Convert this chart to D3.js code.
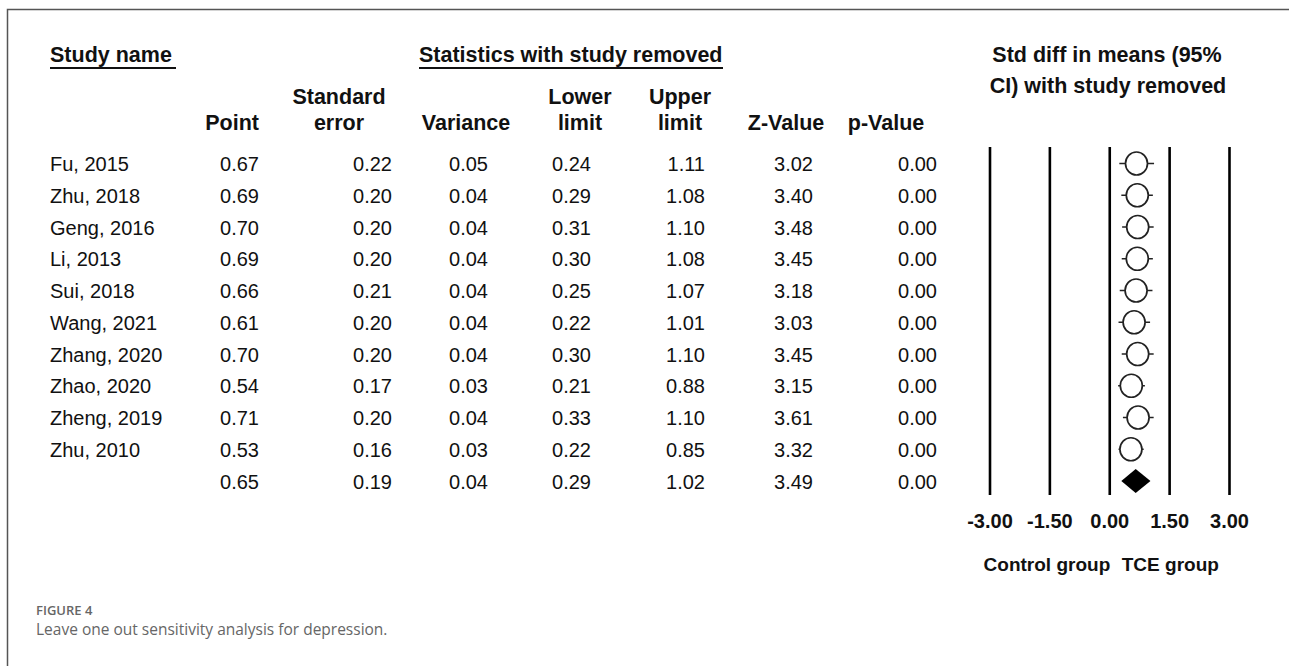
<!DOCTYPE html>
<html>
<head>
<meta charset="utf-8">
<script src="https://cdn.jsdelivr.net/npm/d3@7"></script>
<style>
  html, body { margin: 0; padding: 0; background: #fff; }
  svg { display: block; }
</style>
</head>
<body>
<script>
// ---- data ----
const studies   = ["Fu, 2015","Zhu, 2018","Geng, 2016","Li, 2013","Sui, 2018","Wang, 2021","Zhang, 2020","Zhao, 2020","Zheng, 2019","Zhu, 2010",""];
const point     = [0.67,0.69,0.70,0.69,0.66,0.61,0.70,0.54,0.71,0.53,0.65];
const stdErr    = [0.22,0.20,0.20,0.20,0.21,0.20,0.20,0.17,0.20,0.16,0.19];
const variance  = [0.05,0.04,0.04,0.04,0.04,0.04,0.04,0.03,0.04,0.03,0.04];
const lower     = [0.24,0.29,0.31,0.30,0.25,0.22,0.30,0.21,0.33,0.22,0.29];
const upper     = [1.11,1.08,1.10,1.08,1.07,1.01,1.10,0.88,1.10,0.85,1.02];
const zValue    = [3.02,3.40,3.48,3.45,3.18,3.03,3.45,3.15,3.61,3.32,3.49];
const pValue    = [0.00,0.00,0.00,0.00,0.00,0.00,0.00,0.00,0.00,0.00,0.00];
const isSummary = [false,false,false,false,false,false,false,false,false,false,true];
const tickValues = [-3.00,-1.50,0.00,1.50,3.00];
const colKeys    = ["point","se","var","lower","upper","z","p"];
const colHeaders = [["","Point"],["Standard","error"],["","Variance"],["Lower","limit"],["Upper","limit"],["","Z-Value"],["","p-Value"]];
const colValues  = [point, stdErr, variance, lower, upper, zValue, pValue];

// ---- layout ----
const W = 1289, H = 666;
const svg = d3.select("body").append("svg").attr("width", W).attr("height", H);
const ink = "#111";
const boldFont = "'Liberation Sans', Arial, sans-serif";
const fmt = v => v.toFixed(2);

// frame
svg.append("path")
  .attr("d", `M7.5,${H} L7.5,9.5 L${W},9.5`)
  .attr("fill", "none").attr("stroke", "#555").attr("stroke-width", 1.5);

const yRow = d3.scaleLinear().domain([0, 10]).range([163.5, 481]);
const x = d3.scaleLinear().domain([-3, 3]).range([990, 1229.5]);
const colValueRight = d3.scaleOrdinal().domain(colKeys).range([259, 392, 488, 591, 705, 813, 937]);
const colHeaderMid  = d3.scaleOrdinal().domain(colKeys).range([232, 339, 466, 580, 680, 786, 886]);

// top headings
const h1 = svg.append("g").attr("font-family", boldFont).attr("font-weight", "bold")
  .attr("font-size", 21.5).attr("fill", ink);
h1.append("text").attr("x", 50).attr("y", 62).text("Study name");
h1.append("text").attr("x", 419).attr("y", 62).text("Statistics with study removed");
svg.append("line").attr("x1", 50).attr("x2", 176).attr("y1", 68).attr("y2", 68).attr("stroke", ink).attr("stroke-width", 2);
svg.append("line").attr("x1", 419).attr("x2", 723).attr("y1", 68).attr("y2", 68).attr("stroke", ink).attr("stroke-width", 2);

h1.append("text").attr("x", 1107).attr("y", 62).attr("text-anchor", "middle").text("Std diff in means (95%");
h1.append("text").attr("x", 1108).attr("y", 93).attr("text-anchor", "middle").text("CI) with study removed");

// column headers
const hg = svg.append("g").attr("font-family", boldFont).attr("font-weight", "bold")
  .attr("font-size", 21.5).attr("fill", ink);
colKeys.forEach((k, i) => {
  const [l1, l2] = colHeaders[i];
  const anchorX = k === "point" ? colValueRight(k) : colHeaderMid(k);
  const anchor = k === "point" ? "end" : "middle";
  if (l1) hg.append("text").attr("x", anchorX).attr("y", 104).attr("text-anchor", anchor).text(l1);
  hg.append("text").attr("x", anchorX).attr("y", 130).attr("text-anchor", anchor).text(l2);
});

// table rows
const tg = svg.append("g").attr("font-family", boldFont).attr("font-size", 20).attr("fill", ink);
tg.selectAll("text.name").data(studies).join("text")
  .attr("class", "name").attr("x", 50).attr("y", (d, i) => yRow(i) + 7.5).text(d => d);
colKeys.forEach((k, ci) => {
  tg.selectAll("text.c" + k).data(colValues[ci]).join("text")
    .attr("class", "c" + k)
    .attr("x", colValueRight(k))
    .attr("y", (d, i) => yRow(i) + 7.5)
    .attr("text-anchor", "end")
    .text(d => fmt(d));
});

// forest plot: vertical reference lines
svg.append("g").selectAll("line").data(tickValues).join("line")
  .attr("x1", d => x(d)).attr("x2", d => x(d))
  .attr("y1", 147).attr("y2", 495)
  .attr("stroke", "#000").attr("stroke-width", 2.6);

// tick labels
svg.append("g").attr("font-family", boldFont).attr("font-weight", "bold").attr("font-size", 20).attr("fill", ink)
  .selectAll("text").data(tickValues).join("text")
  .attr("x", d => x(d)).attr("y", 528).attr("text-anchor", "middle")
  .text(d => fmt(d));

// footer labels
const fl = svg.append("g").attr("font-family", boldFont).attr("font-weight", "bold").attr("font-size", 19).attr("fill", ink);
fl.append("text").attr("x", x(0) + 0.5).attr("y", 571).attr("text-anchor", "end").text("Control group");
fl.append("text").attr("x", x(0) + 12).attr("y", 571).attr("text-anchor", "start").text("TCE group");

// study CIs and points
const idx = d3.range(studies.length);
const studyIdx = idx.filter(i => !isSummary[i]);
const pg = svg.append("g");
pg.selectAll("line.ci").data(studyIdx).join("line")
  .attr("class", "ci")
  .attr("x1", i => x(lower[i])).attr("x2", i => x(upper[i]))
  .attr("y1", i => yRow(i)).attr("y2", i => yRow(i))
  .attr("stroke", "#222").attr("stroke-width", 1.5);
pg.selectAll("ellipse.pt").data(studyIdx).join("ellipse")
  .attr("class", "pt")
  .attr("cx", i => x(point[i])).attr("cy", i => yRow(i))
  .attr("rx", 11).attr("ry", 11.5)
  .attr("fill", "#fff").attr("stroke", "#222").attr("stroke-width", 1.7);

// summary diamond
const sumIdx = idx.filter(i => isSummary[i]);
pg.selectAll("path.diamond").data(sumIdx).join("path")
  .attr("class", "diamond")
  .attr("d", i => {
    const cy = yRow(i);
    return `M${x(lower[i])},${cy} L${x(point[i])},${cy - 12} L${x(upper[i])},${cy} L${x(point[i])},${cy + 12} Z`;
  })
  .attr("fill", "#000");

// caption
const cap = svg.append("g").attr("font-family", "'Open Sans', 'Noto Sans', sans-serif");
cap.append("text").attr("x", 36).attr("y", 615).attr("font-size", 13).attr("font-weight", 600)
  .attr("fill", "#666").text("FIGURE 4");
cap.append("text").attr("x", 36).attr("y", 635).attr("font-size", 15.5)
  .attr("fill", "#666").text("Leave one out sensitivity analysis for depression.");
</script>
</body>
</html>
